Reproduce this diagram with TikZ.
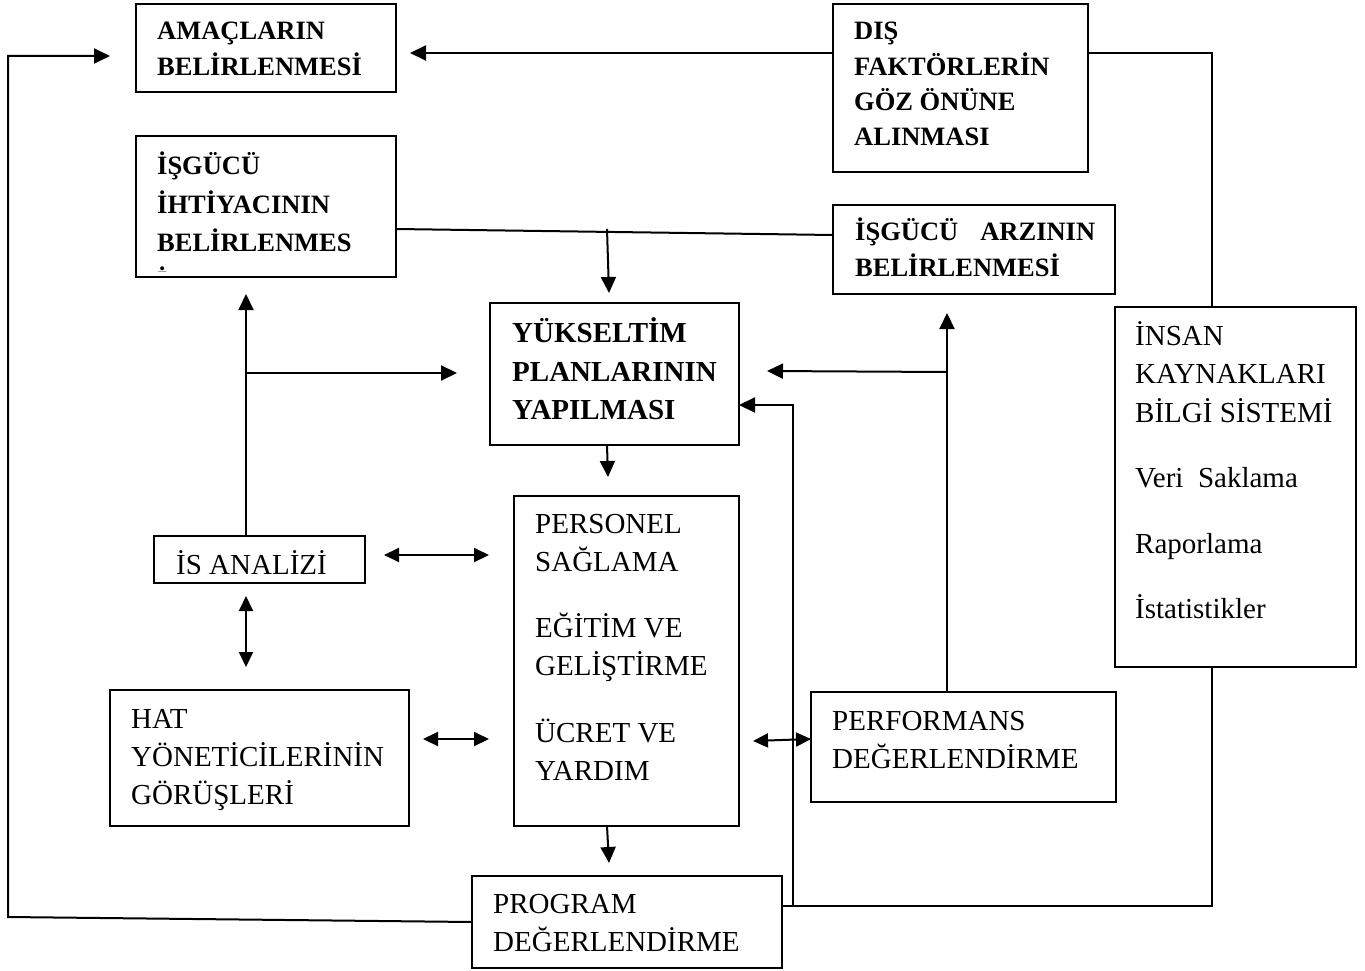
\documentclass[tikz,border=0pt]{standalone}
\usepackage{fontspec}
\setmainfont{Liberation Serif}
\usetikzlibrary{arrows.meta}
\begin{document}
\begin{tikzpicture}[x=1pt,y=-1pt,
  box/.style={draw, line width=1.8pt, inner sep=0pt, outer sep=0pt, anchor=north west},
  bt/.style={font=\fontsize{26.5}{32}\selectfont\bfseries, inner sep=0pt, anchor=base west},
  bttwo/.style={font=\fontsize{29}{35}\selectfont\bfseries, inner sep=0pt, anchor=base west},
  rt/.style={font=\fontsize{29}{35}\selectfont, inner sep=0pt, anchor=base west},
  ln/.style={line width=2pt},
  arr/.style={ln, -{Triangle[length=16pt,width=15pt]}},
  darr/.style={ln, {Triangle[length=15pt,width=14pt]}-{Triangle[length=15pt,width=14pt]}}]
\useasboundingbox (0,0) rectangle (1365,971);

% boxes
\node[box, minimum width=260pt, minimum height=88pt]  (amac)    at (136,4)   {};
\node[box, minimum width=260pt, minimum height=141pt] (ihtiyac) at (136,136) {};
\node[box, minimum width=255pt, minimum height=168pt] (dis)     at (833,4)   {};
\node[box, minimum width=282pt, minimum height=89pt]  (arz)     at (833,205) {};
\node[box, minimum width=249pt, minimum height=142pt] (yuks)    at (490,303) {};
\node[box, minimum width=241pt, minimum height=360pt] (insan)   at (1115,307) {};
\node[box, minimum width=211pt, minimum height=47pt]  (isan)    at (154,536) {};
\node[box, minimum width=299pt, minimum height=136pt] (hat)     at (110,690) {};
\node[box, minimum width=225pt, minimum height=330pt] (pers)    at (514,496) {};
\node[box, minimum width=305pt, minimum height=110pt] (perf)    at (811,692) {};
\node[box, minimum width=310pt, minimum height=92pt]  (prog)    at (472,876) {};

% texts
\node[bt] (amac1) at (157,40) {AMAÇLARIN};
\node[bt] (amac2) at (157,76) {BELİRLENMESİ};

\node[bt] (iht1) at (157,175) {İŞGÜCÜ};
\node[bt] (iht2) at (157,213) {İHTİYACININ};
\node[bt] (iht3) at (157,251) {BELİRLENMES};
\begin{scope}
  \clip (136,136) rectangle (396,271);
  \node[bt] (iht4) at (157,289) {İ};
\end{scope}

\node[bt] (dis1) at (854,40) {DIŞ};
\node[bt] (dis2) at (854,76) {FAKTÖRLERİN};
\node[bt] (dis3) at (854,111) {GÖZ ÖNÜNE};
\node[bt] (dis4) at (854,146) {ALINMASI};

\node[bt] (arz1) at (855,240) {\makebox[240pt][l]{İŞGÜCÜ\hfill ARZININ}};
\node[bt] (arz2) at (855,276) {BELİRLENMESİ};

\node[bttwo] (yuks1) at (512,342) {YÜKSELTİM};
\node[bttwo] (yuks2) at (512,381) {PLANLARININ};
\node[bttwo] (yuks3) at (512,419) {YAPILMASI};

\node[rt] (ins1) at (1135,345) {İNSAN};
\node[rt] (ins2) at (1135,383) {KAYNAKLARI};
\node[rt] (ins3) at (1135,422) {BİLGİ SİSTEMİ};
\node[rt] (ins4) at (1135,487) {Veri\ \ Saklama};
\node[rt] (ins5) at (1135,553) {Raporlama};
\node[rt] (ins6) at (1135,618) {İstatistikler};

\begin{scope}
  \clip (154,536) rectangle (365,573);
  \node[rt] (isan1) at (176,574) {İS ANALİZİ};
\end{scope}

\node[rt] (hat1) at (131,728) {HAT};
\node[rt] (hat2) at (131,766) {YÖNETİCİLERİNİN};
\node[rt] (hat3) at (131,804) {GÖRÜŞLERİ};

\node[rt] (pers1) at (535,533) {PERSONEL};
\node[rt] (pers2) at (535,571) {SAĞLAMA};
\node[rt] (pers3) at (535,637) {EĞİTİM VE};
\node[rt] (pers4) at (535,675) {GELİŞTİRME};
\node[rt] (pers5) at (535,742) {ÜCRET VE};
\node[rt] (pers6) at (535,780) {YARDIM};

\node[rt] (perf1) at (832,730) {PERFORMANS};
\node[rt] (perf2) at (832,768) {DEĞERLENDİRME};

\node[rt] (prog1) at (493,913) {PROGRAM};
\node[rt] (prog2) at (493,951) {DEĞERLENDİRME};

% coordinates
\coordinate (lb) at (8,917);
\coordinate (lt) at (8,56);
\coordinate (amacL) at (110,56);
\coordinate (amacR) at (410,53);
\coordinate (rc) at (1212,53);
\coordinate (m1) at (607,229);
\coordinate (yT) at (609,293);
\coordinate (ihtB) at (246,294);
\coordinate (br1) at (246,373);
\coordinate (yL) at (457,373);
\coordinate (isR) at (384,555);
\coordinate (persL1) at (489,555);
\coordinate (isB) at (246,596);
\coordinate (hatT) at (246,667);
\coordinate (hatR) at (423,739);
\coordinate (persL2) at (489,739);
\coordinate (yB) at (608,477);
\coordinate (pB) at (609,863);
\coordinate (persR) at (753,741);
\coordinate (arzB) at (947,313);
\coordinate (br2) at (947,372);
\coordinate (yR) at (767,371);
\coordinate (bc) at (1212,906);
\coordinate (vc) at (793,906);
\coordinate (vt) at (793,405);

% connectors
\draw[arr] (prog.west) -- (lb) -- (lt) -- (amacL);
\draw[arr] (dis.west |- amacR) -- (amacR);
\draw[ln] (dis.east |- rc) -- (rc) -- (insan.north -| rc);
\draw[ln] (ihtiyac.east |- 0,229) -- (arz.west |- 0,235);
\draw[arr] (m1) -- (yT);
\draw[arr] (isan.north -| ihtB) -- (ihtB);
\draw[arr] (br1) -- (yL);
\draw[darr] (isR) -- (persL1);
\draw[darr] (isB) -- (hatT);
\draw[darr] (hatR) -- (persL2);
\draw[arr] (yuks.south -| 607,0) -- (yB);
\draw[arr] (pers.south -| 607,0) -- (pB);
\draw[darr] (persR) -- (perf.west |- 0,739);
\draw[arr] (perf.north -| arzB) -- (arzB);
\draw[arr] (br2) -- (yR);
\draw[ln] (prog.east |- bc) -- (bc) -- (insan.south -| bc);
\draw[arr] (vc) -- (vt) -- (yuks.east |- vt);
\end{tikzpicture}
\end{document}
